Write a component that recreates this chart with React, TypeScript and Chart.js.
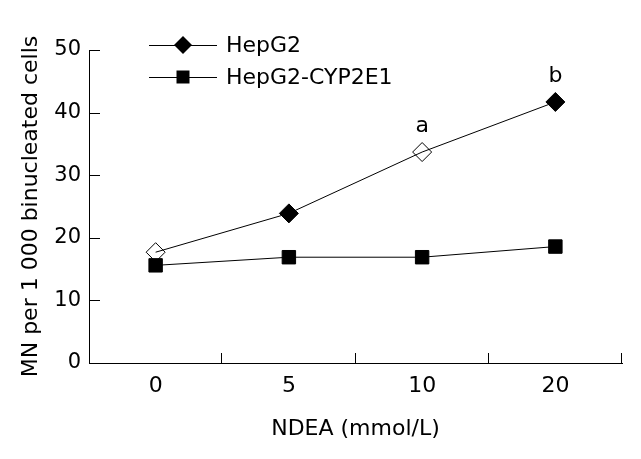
import React, { useEffect, useRef } from "react";
import { Chart, registerables } from "chart.js";

Chart.register(...registerables);

const categories = ["0", "5", "10", "20"];
const hepg2Values = [17.7, 23.9, 33.7, 41.7];
const cypValues = [15.6, 16.9, 16.9, 18.6];
const hepg2Fill = ["rgba(0,0,0,0)", "#000", "rgba(0,0,0,0)", "#000"];
const seriesNames = ["HepG2", "HepG2-CYP2E1"];
const pointLetters = [null, null, "a", "b"];
const yTicks = [0, 10, 20, 30, 40, 50];

const FONT = "'DejaVu Sans', Verdana, sans-serif";

const tickPlugin = {
  id: "innerTicks",
  afterDraw(chart: any) {
    const { ctx, chartArea } = chart;
    const xs = chart.scales.x;
    const ys = chart.scales.y;
    ctx.save();
    ctx.strokeStyle = "#000";
    ctx.lineWidth = 1;
    ctx.beginPath();
    const n = categories.length;
    const step = (chartArea.right - chartArea.left) / n;
    for (let i = 1; i <= n; i++) {
      const x = Math.round(xs.left + i * step) - 0.5;
      ctx.moveTo(x, chartArea.bottom);
      ctx.lineTo(x, chartArea.bottom - 10);
    }
    yTicks.forEach((v) => {
      const y = Math.round(ys.getPixelForValue(v)) + 0.5;
      ctx.moveTo(chartArea.left, y);
      ctx.lineTo(chartArea.left + 11, y);
    });
    ctx.stroke();

    // letters above points
    const meta = chart.getDatasetMeta(0);
    ctx.fillStyle = "#000";
    ctx.font = `22px ${FONT}`;
    ctx.textAlign = "center";
    ctx.textBaseline = "middle";
    pointLetters.forEach((t, i) => {
      if (!t) return;
      const p = meta.data[i];
      ctx.fillText(t, p.x, p.y - 26);
    });

    // legend
    const rows = [45, 77];
    rows.forEach((ry, i) => {
      ctx.beginPath();
      ctx.moveTo(149, ry + 0.5);
      ctx.lineTo(217, ry + 0.5);
      ctx.stroke();
      ctx.beginPath();
      const cx = 183;
      if (i === 0) {
        const r = 9;
        ctx.moveTo(cx - r, ry);
        ctx.lineTo(cx, ry - r);
        ctx.lineTo(cx + r, ry);
        ctx.lineTo(cx, ry + r);
        ctx.closePath();
      } else {
        ctx.rect(cx - 6.5, ry - 6.5, 13, 13);
      }
      ctx.fill();
      ctx.textAlign = "left";
      ctx.font = `22px ${FONT}`;
      ctx.fillText(seriesNames[i], 226, ry + 1);
    });
    ctx.restore();
  },
};

export default function App() {
  const ref = useRef<HTMLCanvasElement | null>(null);
  useEffect(() => {
    if (!ref.current) return;
    Chart.defaults.font.family = FONT;
    const chart = new Chart(ref.current, {
      type: "line",
      data: {
        labels: categories,
        datasets: [
          {
            label: seriesNames[0],
            data: hepg2Values,
            borderColor: "#000",
            borderWidth: 1,
            pointStyle: "rectRot",
            pointRadius: 9.5,
            pointHoverRadius: 9.5,
            pointBackgroundColor: hepg2Fill,
            pointBorderColor: "#000",
            pointBorderWidth: 1,
            tension: 0,
            fill: false,
          },
          {
            label: seriesNames[1],
            data: cypValues,
            borderColor: "#000",
            borderWidth: 1,
            pointStyle: "rect",
            pointRadius: 9.5,
            pointHoverRadius: 9.5,
            pointBackgroundColor: "#000",
            pointBorderColor: "#000",
            pointBorderWidth: 1,
            tension: 0,
            fill: false,
          },
        ],
      },
      options: {
        animation: false,
        responsive: true,
        maintainAspectRatio: false,
        layout: { padding: { top: 50, right: 19, left: 0, bottom: 0 } },
        plugins: {
          legend: { display: false },
          tooltip: { enabled: false },
        },
        scales: {
          x: {
            type: "category",
            offset: true,
            grid: { display: true, drawOnChartArea: false, drawTicks: false, color: "rgba(0,0,0,0)" },
            border: { display: true, color: "#000", width: 1 },
            ticks: { color: "#000", font: { size: 22, family: FONT }, padding: 10, maxRotation: 0 },
            title: {
              display: true,
              text: "NDEA (mmol/L)",
              color: "#000",
              font: { size: 22, family: FONT },
              padding: { top: 0, bottom: 17 },
            },
            afterFit: (s: any) => {
              s.height = 96;
            },
          },
          y: {
            min: 0,
            max: 50,
            grid: { display: true, drawOnChartArea: false, drawTicks: false, color: "rgba(0,0,0,0)" },
            border: { display: true, color: "#000", width: 1 },
            ticks: { stepSize: 10, color: "#000", font: { size: 21, family: FONT }, padding: 8 },
            title: {
              display: true,
              text: "MN per 1 000 binucleated cells",
              color: "#000",
              font: { size: 22, family: FONT },
              padding: { top: 18, bottom: 0 },
            },
            afterFit: (s: any) => {
              s.width = 89;
            },
          },
        },
      },
      plugins: [tickPlugin],
    });
    return () => chart.destroy();
  }, []);
  return (
    <div style={{ position: "absolute", left: 0, top: 0, width: 641, height: 459, background: "#fff" }}>
      <canvas ref={ref} />
    </div>
  );
}
